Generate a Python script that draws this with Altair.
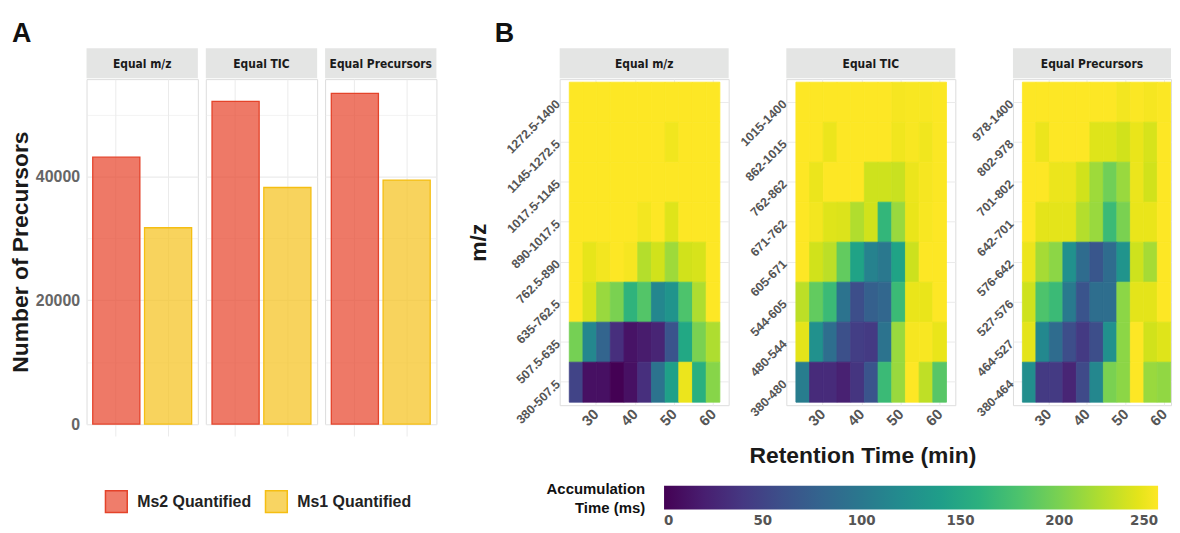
import altair as alt
import pandas as pd

# ---------------- data ----------------
methods = ["Equal m/z", "Equal TIC", "Equal Precursors"]
quant_types = ["Ms2 Quantified", "Ms1 Quantified"]
ms2_precursors = [43100, 52100, 53400]
ms1_precursors = [31700, 38200, 39400]

rt_bin_centers = [25.0, 28.5, 32.0, 35.5, 39.0, 42.5, 46.0, 49.5, 53.0, 56.5, 60.0]
rt_bin_width = 3.5

mz_bins_equal_mz = ["1272.5-1400", "1145-1272.5", "1017.5-1145", "890-1017.5",
                    "762.5-890", "635-762.5", "507.5-635", "380-507.5"]
mz_bins_equal_tic = ["1015-1400", "862-1015", "762-862", "671-762",
                     "605-671", "544-605", "480-544", "380-480"]
mz_bins_equal_prec = ["978-1400", "802-978", "701-802", "642-701",
                      "576-642", "527-576", "464-527", "380-464"]

acc_equal_mz = [
    [250, 250, 250, 250, 250, 250, 250, 250, 250, 250, 250],
    [250, 250, 250, 250, 250, 250, 250, 245, 250, 250, 250],
    [250, 250, 250, 250, 250, 250, 250, 250, 250, 250, 250],
    [250, 250, 250, 250, 250, 246, 250, 238, 250, 250, 250],
    [250, 241, 246, 250, 247, 222, 233, 214, 233, 235, 250],
    [250, 236, 212, 200, 162, 183, 115, 128, 180, 220, 250],
    [198, 115, 80, 33, 12, 18, 25, 65, 150, 200, 220],
    [50, 10, 10, 0, 10, 33, 95, 142, 243, 158, 205],
]
acc_equal_tic = [
    [250, 250, 250, 250, 250, 250, 250, 247, 248, 248, 249],
    [250, 250, 243, 250, 250, 250, 250, 245, 248, 245, 249],
    [250, 243, 250, 250, 250, 232, 232, 230, 243, 247, 249],
    [250, 246, 238, 237, 221, 233, 165, 212, 242, 248, 250],
    [250, 233, 225, 190, 145, 110, 100, 145, 231, 250, 250],
    [225, 190, 170, 95, 58, 75, 82, 170, 242, 242, 250],
    [240, 125, 90, 60, 45, 42, 95, 212, 247, 248, 242],
    [105, 30, 30, 22, 38, 65, 170, 212, 250, 226, 185],
]
acc_equal_prec = [
    [250, 250, 250, 250, 250, 250, 250, 246, 249, 247, 249],
    [250, 243, 250, 250, 250, 238, 238, 233, 242, 235, 250],
    [250, 250, 243, 243, 233, 214, 196, 212, 243, 233, 250],
    [250, 240, 240, 240, 222, 212, 170, 200, 242, 242, 250],
    [243, 217, 207, 125, 87, 67, 87, 128, 232, 217, 250],
    [232, 180, 170, 102, 65, 90, 90, 207, 240, 240, 250],
    [240, 117, 87, 58, 42, 58, 125, 207, 250, 233, 238],
    [122, 42, 42, 25, 55, 115, 200, 207, 250, 212, 209],
]

colorbar_values = [0, 50, 100, 150, 200, 250]
bar_fill = ["#E8452C", "#F5C21F"]
bar_fill_legend = ["#EF7D6B", "#F8D462"]
bar_stroke = ["#E4432A", "#F5BE12"]

# ---------------- style ----------------
FONT = "Liberation Sans"
NARROW = "'Liberation Sans Narrow', 'DejaVu Sans Condensed', Roboto, sans-serif"
GRID = "#ebebeb"
LABEL_GREY = "#555555"
STRIP_FILL = "#e4e5e4"
STRIP_H = 31
TITLE_SIZE = 23
IND = dict(fill="independent", stroke="independent", color="independent")


def strip(label, width):
    sdf = pd.DataFrame({"label": [label]})
    bg = alt.Chart(sdf).mark_rect(color=STRIP_FILL).encode(
        x=alt.value(0), x2=alt.value(width), y=alt.value(-STRIP_H), y2=alt.value(-1)
    )
    tx = alt.Chart(sdf).mark_text(
        font=NARROW, fontSize=12, fontWeight="bold", color="#1a1a1a"
    ).encode(x=alt.value(width / 2), y=alt.value(-STRIP_H / 2), text="label:N")
    return bg, tx


BAR_W = 112
BAR_H = 347


def bar_panel(i):
    first = i == 0
    df = pd.DataFrame({
        "type": quant_types,
        "count": [ms2_precursors[i], ms1_precursors[i]],
    })
    gw = {"condition": {"test": "datum.value % 20000 === 0", "value": 1.2}, "value": 0.6}
    if first:
        yaxis = alt.Axis(
            title="Number of Precursors",
            values=[0, 10000, 20000, 30000, 40000, 50000], format="d",
            labelExpr="datum.value % 20000 === 0 ? datum.label : ''",
            ticks=False, domain=False, grid=True, gridColor=GRID, gridWidth=gw,
            labelFont=FONT, labelFontSize=16, labelFontWeight="bold", labelColor="#666666",
            labelPadding=7, zindex=0,
            titleFont=FONT, titleFontSize=TITLE_SIZE, titleFontWeight="bold", titleColor="#1a1a1a",
            titlePadding=3,
        )
    else:
        yaxis = alt.Axis(
            title=None, values=[0, 10000, 20000, 30000, 40000, 50000],
            labels=False, ticks=False, domain=False, grid=True, gridColor=GRID,
            gridWidth=gw, minExtent=0, maxExtent=0, zindex=0,
        )
    bars = alt.Chart(df).mark_bar(fillOpacity=0.72, strokeWidth=1.3).encode(
        x=alt.X(
            "type:N", sort=quant_types,
            scale=alt.Scale(paddingInner=0.09, paddingOuter=0.12),
            axis=alt.Axis(title=None, labels=False, domain=False, ticks=True,
                          tickColor=GRID, tickSize=12, tickWidth=1, zindex=0,
                          grid=True, gridColor=GRID, bandPosition=0.5),
        ),
        y=alt.Y("count:Q", scale=alt.Scale(domain=[0, 55700], nice=False), axis=yaxis),
        fill=alt.Fill("type:N", scale=alt.Scale(domain=quant_types, range=bar_fill), legend=None),
        stroke=alt.Stroke("type:N", scale=alt.Scale(domain=quant_types, range=bar_stroke), legend=None),
    )
    bg, tx = strip(methods[i], BAR_W)
    return alt.layer(bg, tx, bars).properties(width=BAR_W, height=BAR_H)


HEAT_H = 328


def heat_panel(i, labels, mat, width, domain):
    rows = []
    for r, lab in enumerate(labels):
        for c, v in enumerate(mat[r]):
            rows.append({
                "mz": lab,
                "rt0": rt_bin_centers[c] - rt_bin_width / 2,
                "rt1": rt_bin_centers[c] + rt_bin_width / 2,
                "acc": v,
            })
    df = pd.DataFrame(rows)
    xaxis = alt.Axis(
        title=None,
        values=[30, 40, 50, 60], format="d",
        labelAngle=-45, labelAlign="right", labelBaseline="middle", labelPadding=6,
        labelFont=FONT, labelFontSize=15, labelFontWeight="bold", labelColor=LABEL_GREY,
        ticks=False, domain=False, grid=True, gridColor=GRID, zindex=0,
    )
    yargs = dict(
        labelAngle=-45, labelAlign="right", labelBaseline="middle", labelPadding=2,
        labelFont=FONT, labelFontSize=12.5, labelFontWeight="bold", labelColor=LABEL_GREY,
        ticks=False, domain=False, grid=True, gridColor=GRID, bandPosition=0.5, zindex=0,
    )
    if i == 0:
        yaxis = alt.Axis(
            title="m/z", titleFont=FONT, titleFontSize=TITLE_SIZE, titleFontWeight="bold",
            titleColor="#1a1a1a", titlePadding=14, **yargs)
    else:
        yaxis = alt.Axis(title=None, minExtent=52, **yargs)
    vir = alt.Scale(scheme="viridis", domain=[0, 250])
    rect = alt.Chart(df).mark_rect(clip=True, strokeWidth=0.8).encode(
        x=alt.X("rt0:Q", scale=alt.Scale(domain=domain, nice=False, zero=False), axis=xaxis),
        x2="rt1:Q",
        y=alt.Y("mz:O", sort=labels, scale=alt.Scale(paddingInner=0, paddingOuter=0.075), axis=yaxis),
        color=alt.Color("acc:Q", scale=vir, legend=None),
        stroke=alt.Stroke("acc:Q", scale=vir, legend=None),
    )
    bg, tx = strip(methods[i], width)
    return alt.layer(bg, tx, rect).properties(width=width, height=HEAT_H)


# ---------------- legends (own small charts) ----------------
def bar_legend():
    return alt.Legend(
        title=None, orient="none", legendX=18, legendY=4, direction="horizontal",
        symbolType="square", symbolSize=480, symbolStrokeWidth=1.5,
        labelFont=FONT, labelFontSize=16, labelFontWeight="bold",
        labelColor="#222222", columnPadding=11, labelOffset=9)


legend_a = alt.Chart(pd.DataFrame({"type": quant_types})).mark_square(size=0, opacity=1).encode(
    fill=alt.Fill("type:N", scale=alt.Scale(domain=quant_types, range=bar_fill_legend),
                  legend=bar_legend()),
    stroke=alt.Stroke("type:N", scale=alt.Scale(domain=quant_types, range=bar_stroke),
                      legend=bar_legend()),
).properties(width=1, height=1)

legend_b = alt.Chart(pd.DataFrame({"acc": colorbar_values})).mark_point(size=0, opacity=1).encode(
    color=alt.Color("acc:Q", scale=alt.Scale(scheme="viridis", domain=[0, 250]),
                    legend=alt.Legend(
                        type="gradient",
                        title=["Accumulation", "Time (ms)"], orient="none", legendX=0, legendY=0,
                        direction="horizontal", gradientLength=497, gradientThickness=24,
                        titleOrient="left", titleAlign="right", titleFont=FONT, titleFontSize=15,
                        titleFontWeight="bold", titleColor="#111111",
                        titlePadding=alt.ExprRef("-81"),
                        titleLineHeight=19,
                        labelFont=NARROW, labelFontSize=15, labelFontWeight="bold",
                        labelColor=LABEL_GREY, values=colorbar_values, labelOffset=4)),
).properties(width=1, height=1)

panel_a = alt.hconcat(
    bar_panel(0), bar_panel(1), bar_panel(2), spacing=6,
    title=alt.Title("A", anchor="start", fontSize=27, font=FONT, fontWeight="bold",
                    color="#111111", dx=3, offset=0),
).resolve_scale(**IND)

heat_row = alt.hconcat(
    heat_panel(0, mz_bins_equal_mz, acc_equal_mz, 170, [20.8, 64.0]),
    heat_panel(1, mz_bins_equal_tic, acc_equal_tic, 170, [20.8, 64.0]),
    heat_panel(2, mz_bins_equal_prec, acc_equal_prec, 159, [20.8, 61.8]),
    spacing=4,
    title=alt.Title("Retention Time (min)", orient="bottom", anchor="middle",
                    fontSize=TITLE_SIZE, font=FONT, fontWeight="bold", color="#1a1a1a",
                    dx=44, offset=16),
).resolve_scale(**IND)

panel_b = alt.hconcat(
    heat_row,
    title=alt.Title("B", anchor="start", fontSize=27, font=FONT, fontWeight="bold",
                    color="#111111", dx=28, offset=0),
).resolve_scale(**IND)

row1 = alt.hconcat(panel_a, panel_b, spacing=29).resolve_scale(**IND)
row2 = alt.hconcat(legend_a, legend_b, spacing=132).resolve_scale(**IND)

chart = alt.vconcat(row1, row2, spacing=14).resolve_scale(**IND).properties(
    padding={"left": 1, "top": 10, "right": 0, "bottom": 0},
    background="white",
).configure_view(stroke=None).configure(font=FONT)

chart.save("out.html", embed_options={"renderer": "svg", "actions": False})
